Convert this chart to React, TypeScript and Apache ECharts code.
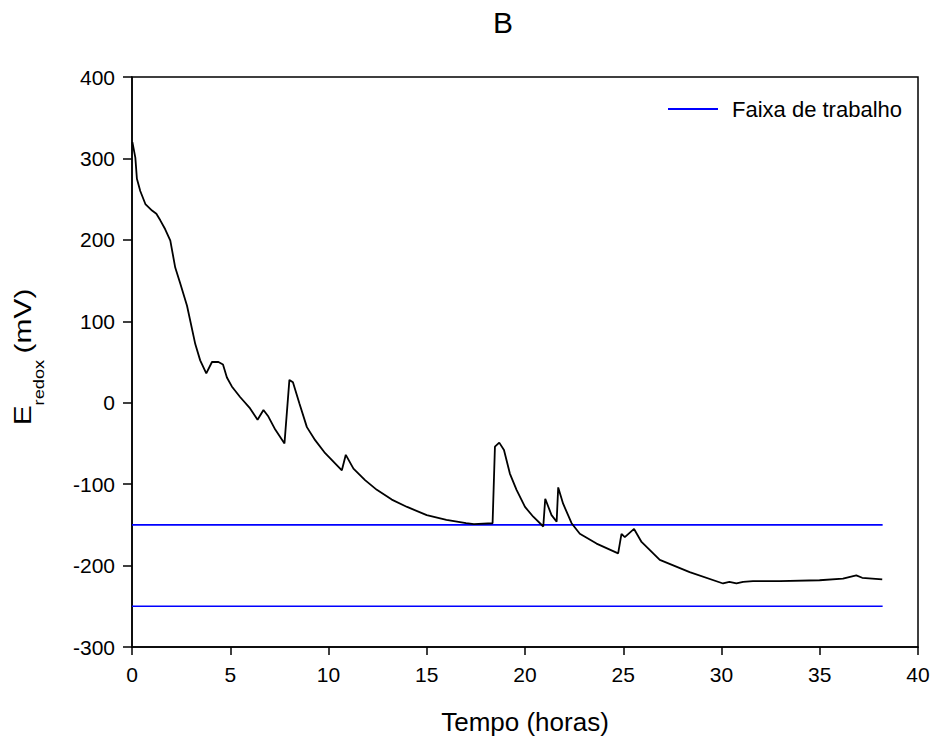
import React, { useEffect, useRef } from "react";
import * as echarts from "echarts";

// Time (hours) and redox potential (mV)
const timeH = [
  0.02, 0.17, 0.25, 0.42, 0.68, 1.02, 1.24, 1.44, 1.69, 1.95, 2.2, 2.46, 2.8, 3.22, 3.47, 3.78,
  4.07, 4.4, 4.63, 4.83, 5.08, 5.5, 6.01, 6.39, 6.69, 6.94, 7.29, 7.76, 8.01, 8.19, 8.52, 8.9,
  9.32, 9.83, 10.68, 10.88, 11.27, 11.86, 12.46, 13.22, 14.0, 15.0, 16.0, 17.0, 17.4, 18.35,
  18.47, 18.69, 18.93, 19.23, 19.57, 20.0, 20.42, 20.93, 21.03, 21.35, 21.61, 21.69, 21.94,
  22.37, 22.79, 23.64, 24.74, 24.91, 25.08, 25.55, 25.93, 26.86, 28.38, 30.08, 30.4, 30.76,
  31.1, 31.6, 32.96, 34.99, 36.18, 36.86, 37.16, 38.18,
];
const eRedox = [
  320, 301, 275, 260, 244, 236, 232, 224, 213, 199, 166, 146, 119, 72, 52, 36,
  50, 50, 47, 31, 20, 7, -7, -21, -9, -17, -33, -50, 28, 25, -1, -30,
  -46, -62, -83, -64, -81, -95, -107, -119, -128, -138, -144, -148, -149, -148,
  -54, -49, -58, -87, -107, -128, -140, -152, -118, -138, -146, -104, -124,
  -148, -161, -173, -185, -161, -165, -155, -171, -193, -208, -222, -220, -222,
  -220, -219, -219, -218, -216, -212, -215, -217,
];

// Working range ("Faixa de trabalho") limits
const bandName = "Faixa de trabalho";
const bandUpper = -150;
const bandLower = -250;
const bandStart = 0;
const bandEnd = 38.2;

const chartTitle = "B";
const xName = "Tempo (horas)";

const FONT = "'Liberation Sans', Arial, Helvetica, sans-serif";

export default function App() {
  const ref = useRef<HTMLDivElement>(null);

  useEffect(() => {
    if (!ref.current) return;
    const chart = echarts.init(ref.current, null, { renderer: "svg" });
    const curve = timeH.map((t, i) => [t, eRedox[i]]);
    const axisCommon = {
      axisLine: { show: true, onZero: false, lineStyle: { color: "#000", width: 1.5 } },
      axisTick: { show: true, inside: false, length: 8, lineStyle: { color: "#000", width: 1.5 } },
      axisLabel: { color: "#000", fontSize: 21, fontFamily: FONT, margin: 17 },
      splitLine: { show: false },
    };
    chart.setOption({
      animation: false,
      backgroundColor: "#fff",
      textStyle: { fontFamily: FONT },
      title: {
        text: chartTitle,
        left: 493,
        top: 7,
        padding: 0,
        textStyle: { fontSize: 30, fontWeight: "normal", color: "#000", fontFamily: FONT },
      },
      legend: {
        data: [bandName],
        left: 668,
        top: 98,
        padding: 0,
        icon: "rect",
        itemWidth: 50,
        itemHeight: 2,
        textStyle: { fontSize: 22, color: "#000", fontFamily: FONT, padding: [0, 0, 0, 9] },
      },
      grid: {
        left: 132,
        right: 19,
        top: 77,
        bottom: 97,
        show: true,
        borderColor: "#000",
        borderWidth: 1.5,
        backgroundColor: "transparent",
      },
      xAxis: {
        type: "value",
        min: 0,
        max: 40,
        interval: 5,
        name: xName,
        nameLocation: "middle",
        nameGap: 62,
        nameTextStyle: { fontSize: 26, color: "#000", fontFamily: FONT },
        ...axisCommon,
      },
      yAxis: {
        type: "value",
        min: -300,
        max: 400,
        interval: 100,
        ...axisCommon,
        axisTick: { show: true, inside: false, length: 9, lineStyle: { color: "#000", width: 1.5 } },
      },
      graphic: [
        {
          type: "text",
          x: 23,
          y: 357,
          rotation: Math.PI / 2,
          scaleX: 1.3,
          style: {
            text: "{a|E}{b|redox}{c|(mV)}",
            align: "center",
            verticalAlign: "middle",
            fill: "#000",
            rich: {
              a: { fontSize: 23, lineHeight: 46, fontFamily: FONT, fill: "#000" },
              b: { fontSize: 14, lineHeight: 14, verticalAlign: "bottom", fontFamily: FONT, fill: "#000" },
              c: { fontSize: 23, lineHeight: 46, fontFamily: FONT, fill: "#000", padding: [0, 0, 0, 5] },
            },
          },
        },
      ],
      series: [
        {
          name: "E",
          type: "line",
          data: curve,
          symbol: "none",
          lineStyle: { color: "#000", width: 1.8 },
          itemStyle: { color: "#000" },
          z: 3,
        },
        {
          name: bandName,
          type: "line",
          data: [[bandStart, bandUpper], [bandEnd, bandUpper]],
          symbol: "none",
          lineStyle: { color: "#0000ff", width: 1.6 },
          itemStyle: { color: "#0000ff" },
          z: 2,
        },
        {
          name: bandName,
          type: "line",
          data: [[bandStart, bandLower], [bandEnd, bandLower]],
          symbol: "none",
          lineStyle: { color: "#0000ff", width: 1.6 },
          itemStyle: { color: "#0000ff" },
          z: 2,
        },
      ],
    });
    return () => chart.dispose();
  }, []);

  return (
    <div
      ref={ref}
      style={{ position: "absolute", left: 0, top: 0, width: 937, height: 744 }}
    />
  );
}
